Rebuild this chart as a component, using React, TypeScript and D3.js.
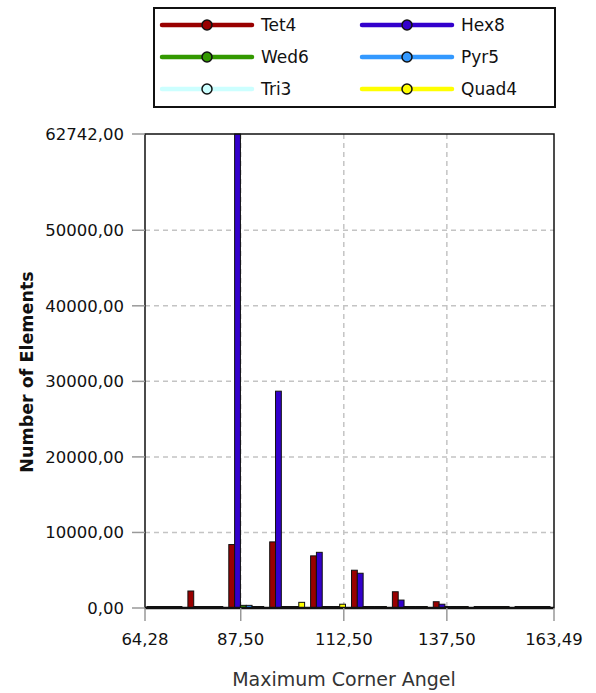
import React from "react";
import * as d3 from "d3";

const series = ["Tet4", "Hex8", "Wed6", "Pyr5", "Tri3", "Quad4"];
const colors = ["#990000", "#3300cc", "#339900", "#3399ff", "#ccffff", "#ffff00"];

const xMin = 64.28;
const xMax = 163.49;
const binCount = 10;
const yMax = 62742;

// values per bin (10 bins) for each series
const tet4 = [0, 2250, 8400, 8750, 6900, 5000, 2150, 830, 0, 0];
const hex8 = [0, 0, 62742, 28700, 7370, 4600, 1050, 500, 0, 0];
const wed6 = [0, 0, 350, 0, 0, 0, 0, 0, 0, 0];
const pyr5 = [0, 0, 350, 0, 0, 0, 0, 0, 0, 0];
const tri3 = [0, 0, 0, 0, 0, 0, 0, 0, 0, 0];
const quad4 = [0, 0, 0, 750, 500, 0, 0, 0, 0, 0];
const allValues = [tet4, hex8, wed6, pyr5, tri3, quad4];

const xTicks = [64.28, 87.5, 112.5, 137.5, 163.49];
const yTicks = [0, 10000, 20000, 30000, 40000, 50000, 62742];

const fmt = (v: number) => v.toFixed(2).replace(".", ",");

export default function App() {
  const W = 596, H = 693;
  const left = 145, right = 554, top = 134, bottom = 608;
  const x = d3.scaleLinear().domain([xMin, xMax]).range([left, right]);
  const y = d3.scaleLinear().domain([0, yMax]).range([bottom, top]);
  const binW = (xMax - xMin) / binCount;
  const bins = d3.range(binCount).map((i) => xMin + i * binW);
  const font = "'DejaVu Sans', Verdana, sans-serif";
  const textCol = "#111";

  return (
    <svg width={W} height={H} style={{ position: "absolute", left: 0, top: 0 }} fontFamily={font}>
      <rect x={0} y={0} width={W} height={H} fill="#fff" />
      {/* legend */}
      <rect x={154} y={8} width={401} height={99} fill="#fff" stroke="#111" strokeWidth={2} />
      {series.map((s, i) => {
        const col = i % 2;
        const row = Math.floor(i / 2);
        const lx0 = col === 0 ? 162 : 362;
        const ly = 25 + row * 32;
        const mx = lx0 + 45;
        return (
          <g key={s}>
            <line x1={lx0} x2={lx0 + 90} y1={ly} y2={ly} stroke={colors[i]} strokeWidth={4.5} strokeLinecap="round" />
            <circle cx={mx} cy={ly} r={5} fill={colors[i]} stroke="#111" strokeWidth={1.5} />
            <text x={lx0 + 99} y={ly} dy="0.36em" fontSize={17} fill={textCol}>{s}</text>
          </g>
        );
      })}

      {/* grid */}
      {yTicks.filter((t) => t > 0 && t < yMax).map((t) => (
        <line key={"gy" + t} x1={left} x2={right} y1={y(t)} y2={y(t)} stroke="#c4c4c4" strokeWidth={1.5} strokeDasharray="5,4" />
      ))}
      {xTicks.filter((t) => t > xMin && t < xMax).map((t) => (
        <line key={"gx" + t} x1={x(t)} x2={x(t)} y1={top} y2={bottom} stroke="#c4c4c4" strokeWidth={1.5} strokeDasharray="5,4" />
      ))}

      {/* bars */}
      {bins.map((b, bi) => {
        const gx0 = x(b) + 2;
        const gx1 = x(b + binW) - 4;
        const band = d3.scaleBand<string>().domain(series).range([gx0, gx1]);
        return series.map((s, si) => {
          const v = allValues[si][bi];
          const yy = Math.min(y(v), bottom - 1.5);
          return (
            <rect key={s + bi} x={band(s)} y={yy} width={band.bandwidth()} height={bottom - yy}
              fill={colors[si]} stroke="#111" strokeWidth={1} />
          );
        });
      })}

      {/* frame */}
      <rect x={left} y={top} width={right - left} height={bottom - top} fill="none" stroke="#111" strokeWidth={1.5} />
      <line x1={left} x2={right} y1={bottom} y2={bottom} stroke="#111" strokeWidth={2.5} />

      {/* y ticks */}
      {yTicks.map((t) => (
        <g key={"yt" + t}>
          <line x1={132} x2={left} y1={y(t)} y2={y(t)} stroke="#999" strokeWidth={1.5} />
          <text x={124} y={y(t)} dy="0.36em" textAnchor="end" fontSize={16.5} fill={textCol}>{fmt(t)}</text>
        </g>
      ))}
      {/* x ticks */}
      {xTicks.map((t) => (
        <g key={"xt" + t}>
          <line x1={x(t)} x2={x(t)} y1={bottom} y2={bottom + 13} stroke="#999" strokeWidth={1.5} />
          <text x={x(t)} y={645} textAnchor="middle" fontSize={16.5} fill={textCol}>{fmt(t)}</text>
        </g>
      ))}

      <text x={344} y={686} textAnchor="middle" fontSize={19} fill="#333">Maximum Corner Angel</text>
      <text transform="translate(33,372) rotate(-90)" textAnchor="middle" fontSize={17.5} fontWeight="bold" fill="#111">Number of Elements</text>
    </svg>
  );
}
